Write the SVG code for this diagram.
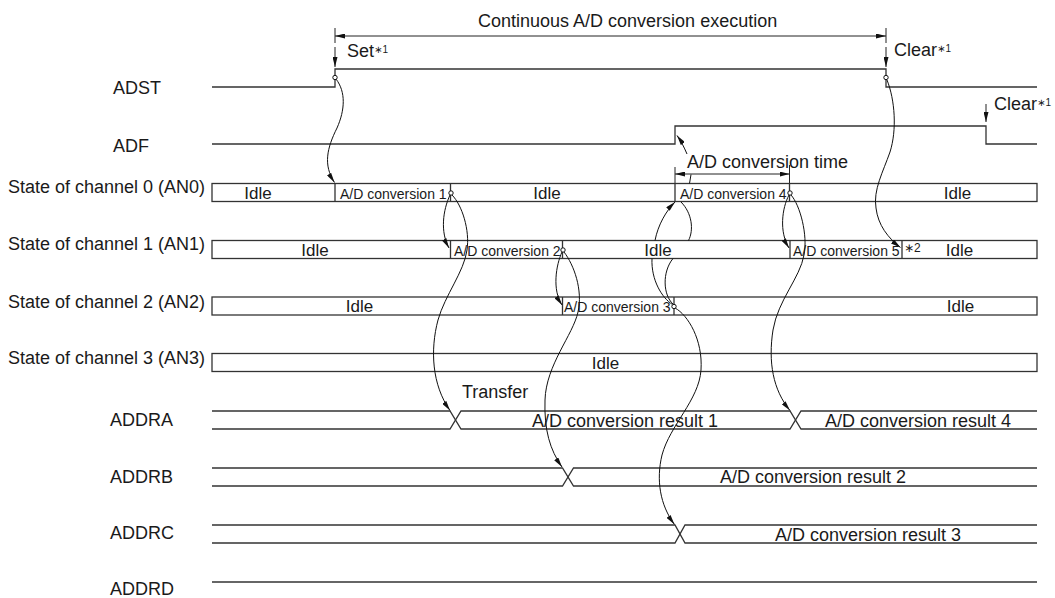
<svg xmlns="http://www.w3.org/2000/svg" width="1055" height="598" viewBox="0 0 1055 598">
<style>
text{font-family:"Liberation Sans",Arial,"DejaVu Sans",sans-serif;font-size:18px;fill:#1a1a1a}
.st{font-size:17px}
.cv{font-size:14px}
.sup{font-size:10px}
.sig{fill:none;stroke:#333;stroke-width:1.3}
.box{fill:none;stroke:#333;stroke-width:1.3}
.thin{fill:none;stroke:#222;stroke-width:1}
.cur{fill:none;stroke:#111;stroke-width:1}
.arr{marker-end:url(#ah)}
.dim{marker-start:url(#ah);marker-end:url(#ah)}
.dot{fill:#fff;stroke:#111;stroke-width:1}
</style>
<defs>
<marker id="ah" viewBox="0 0 10 5" refX="10" refY="2.5" markerWidth="10" markerHeight="5" markerUnits="userSpaceOnUse" orient="auto-start-reverse"><path d="M0,0 L10,2.5 L0,5 z" fill="#111"/></marker>
</defs>
<rect width="1055" height="598" fill="#fff"/>

<g id="title">
<text x="478" y="27">Continuous A/D conversion execution</text>
<path class="thin dim" d="M335,36 H886"/>
<path class="thin" d="M335,28 V43 M886,28 V43"/>
</g>

<g id="adst">
<text x="113" y="94">ADST</text>
<path class="sig" d="M212,87 H335 V69 H886 V87 H1037"/>
<path class="thin arr" d="M335,47 V67"/>
<text x="347" y="56.5">Set<tspan class="sup" dy="-4">∗1</tspan></text>
<path class="thin arr" d="M886,47 V67"/>
<text x="894" y="56">Clear<tspan class="sup" dy="-4">∗1</tspan></text>
</g>

<g id="adf">
<text x="113" y="151.5">ADF</text>
<path class="sig" d="M212,144 H675 V126 H986 V144 H1037"/>
<path class="thin arr" d="M986,104 V122"/>
<text x="994" y="110">Clear<tspan class="sup" dy="-4">∗1</tspan></text>
</g>

<g id="conv-time">
<text x="687" y="168">A/D conversion time</text>
<path class="thin dim" d="M675,174 H789.5"/>
<path class="thin" d="M675,167 V183.5 M789.5,165 V183.5"/>
</g>

<g id="ch0">
<text x="205" y="193" text-anchor="end">State of channel 0 (AN0)</text>
<rect class="box" x="212" y="183.5" width="825" height="18"/>
<path class="box" d="M335,183.5 V201.5 M450.5,183.5 V201.5 M675,183.5 V201.5 M789.5,183.5 V201.5"/>
<text class="st" x="258" y="198.5" text-anchor="middle">Idle</text>
<text class="cv" x="340" y="198.5">A/D conversion 1</text>
<text class="st" x="547" y="198.5" text-anchor="middle">Idle</text>
<text class="cv" x="680" y="198.5">A/D conversion 4</text>
<text class="st" x="957.5" y="198.5" text-anchor="middle">Idle</text>
</g>

<g id="ch1">
<text x="205" y="250" text-anchor="end">State of channel 1 (AN1)</text>
<rect class="box" x="212" y="240.5" width="825" height="18"/>
<path class="box" d="M450.5,240.5 V258.5 M562.5,240.5 V258.5 M790,240.5 V258.5 M902,240.5 V258.5"/>
<text class="st" x="315" y="255.5" text-anchor="middle">Idle</text>
<text class="cv" x="454" y="255.5">A/D conversion 2</text>
<text class="st" x="658" y="255.5" text-anchor="middle">Idle</text>
<text class="cv" x="793" y="255.5">A/D conversion 5</text>
<text class="sup" x="904" y="252" style="font-size:12px">∗2</text>
<text class="st" x="959.5" y="255.5" text-anchor="middle">Idle</text>
</g>

<g id="ch2">
<text x="205" y="307.5" text-anchor="end">State of channel 2 (AN2)</text>
<rect class="box" x="212" y="297" width="825" height="18"/>
<path class="box" d="M562.5,297 V315 M674,297 V315"/>
<text class="st" x="359.5" y="312" text-anchor="middle">Idle</text>
<text class="cv" x="564" y="312">A/D conversion 3</text>
<text class="st" x="960.5" y="312" text-anchor="middle">Idle</text>
</g>

<g id="ch3">
<text x="205" y="364" text-anchor="end">State of channel 3 (AN3)</text>
<rect class="box" x="212" y="353.5" width="825" height="18"/>
<text class="st" x="605.5" y="368.5" text-anchor="middle">Idle</text>
</g>

<g id="addra">
<text x="110" y="426">ADDRA</text>
<path class="sig" d="M212,411 H450 L461,429 H790 L801,411 H1037"/>
<path class="sig" d="M212,429 H450 L461,411 H790 L801,429 H1037"/>
<text x="462" y="398">Transfer</text>
<text x="532" y="427">A/D conversion result 1</text>
<text x="825" y="426.5">A/D conversion result 4</text>
</g>

<g id="addrb">
<text x="110" y="482.5">ADDRB</text>
<path class="sig" d="M212,468 H562.5 L573.5,486 H1037"/>
<path class="sig" d="M212,486 H562.5 L573.5,468 H1037"/>
<text x="720" y="483">A/D conversion result 2</text>
</g>

<g id="addrc">
<text x="110" y="539">ADDRC</text>
<path class="sig" d="M212,525 H675 L685,543 H1037"/>
<path class="sig" d="M212,543 H675 L685,525 H1037"/>
<text x="775" y="540.5">A/D conversion result 3</text>
</g>

<g id="addrd">
<text x="110" y="595">ADDRD</text>
<path class="sig" d="M212,582 H1037"/>
</g>

<g id="connectors">
<path class="cur arr" d="M336,79 C346,92 345,110 337,128 C327,148 323,165 334.5,182.5"/>
<path class="cur arr" d="M450,195 C443,210 440,232 449,248"/>
<path class="cur arr" d="M452,195 C462,205 470,230 467,250 C464,272 445,295 438,320 C430,350 432,385 450,410.5"/>
<path class="cur arr" d="M562,252 C556,265 552,290 562,305"/>
<path class="cur arr" d="M564,252 C574,265 583,290 578,312 C573,335 546,365 545,400 C544,430 550,450 562,467"/>
<path class="cur arr" d="M675,308 C688,315 703,340 701,370 C699,400 670,425 662,455 C656,480 660,505 674.5,524.5"/>
<path class="cur" d="M672.5,304.5 C662,298 651,280 652,258.5"/>
<path class="cur arr" d="M655,240.5 C658,225 666,211 675,202"/>
<path class="cur" d="M673,304 C663,295 662,272 673,258.5"/>
<path class="cur" d="M688.5,240.5 C694,230 692,213 681,202"/>
<path class="cur" d="M689.5,183.5 L691,174.5"/>
<path class="cur arr" d="M687,154 C684,147 681,141 677,135.5"/>
<path class="cur arr" d="M789,195 C782,208 779,232 789,248"/>
<path class="cur arr" d="M791,195 C800,205 808,235 804,255 C800,278 778,300 773,330 C768,362 773,390 790,410.5"/>
<path class="cur arr" d="M887,80 C895,100 897,130 890,152 C883,172 873,190 876,208 C878,225 888,238 900.5,247.5"/>
<circle class="dot" cx="335" cy="77.5" r="2.2"/>
<circle class="dot" cx="886" cy="77.5" r="2.2"/>
<circle class="dot" cx="451" cy="193" r="2.2"/>
<circle class="dot" cx="563" cy="250" r="2.2"/>
<circle class="dot" cx="674" cy="306.5" r="2.2"/>
<circle class="dot" cx="790" cy="193" r="2.2"/>
</g>
</svg>
